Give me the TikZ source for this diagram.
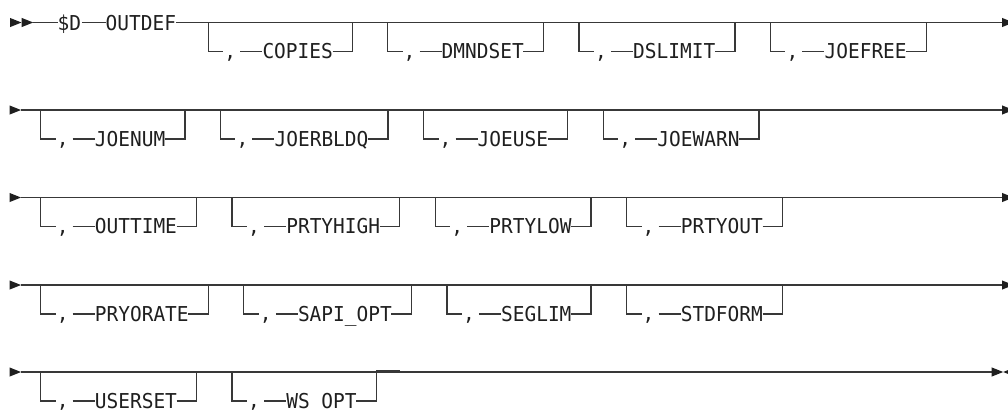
\documentclass[tikz,border=0pt]{standalone}
\usepackage{fontspec}
\newfontfamily\rrfont[FakeStretch=0.95]{DejaVu Sans Mono}
\tikzset{
  rail/.style={line width=1.3pt, draw=black!78, line join=miter},
  kwstyle/.style={inner sep=0pt, anchor=base west, font=\rrfont\fontsize{20.5}{24}\selectfont, text=black!88},
  commastyle/.style={inner sep=0pt, anchor=base, text depth=0pt, font=\rrfont\fontsize{20.5}{24}\selectfont, text=black!88},
  tipfill/.style={fill=black!88, draw=none},
}
% #1 name, #2 main-line y, #3 left x, #4 keyword, #5 number of characters
\newcommand\rrbranch[5]{%
  \pgfmathsetmacro\rrB{#2+29}%
  \pgfmathsetmacro\rrT{#3+54}%
  \pgfmathsetmacro\rrE{#3+54+#5*11.7}%
  \pgfmathsetmacro\rrR{\rrE+20}%
  \coordinate (#1-tl) at (#3,#2);
  \coordinate (#1-bl) at (#3,\rrB);
  \coordinate (#1-bc) at (#3+15,\rrB);
  \coordinate (#1-d1) at (#3+32,\rrB);
  \coordinate (#1-d2) at (\rrT,\rrB);
  \coordinate (#1-d3) at (\rrE,\rrB);
  \coordinate (#1-br) at (\rrR,\rrB);
  \coordinate (#1-tr) at (\rrR,#2);
  \node[commastyle] (#1-comma) at (#3+22,\rrB+6.6) {,};
  \node[kwstyle] (#1) at (\rrT,\rrB+7.2) {#4};
  \draw[rail] (#1-tl) -- (#1-bl) -- (#1-bc);
  \draw[rail] (#1-d1) -- (#1-d2);
  \draw[rail] (#1-d3) -- (#1-br) -- (#1-tr);
}
\newcommand\rrstart[2]{% #1 x, #2 y : right-pointing triangle
  \fill[tipfill] (#1,#2-4.6) -- (#1+11.5,#2) -- (#1,#2+4.6) -- cycle;
}
\begin{document}
\begin{tikzpicture}[x=1pt,y=-1pt]
\useasboundingbox (0,0) rectangle (1008,413);
\def\ya{22.5}\def\yb{110}\def\yc{197.5}\def\yd{285}\def\ye{372}

% ---------- row 1 ----------
\rrstart{10}{\ya}\rrstart{21.7}{\ya}
\coordinate (a0) at (33.2,\ya);
\node[kwstyle] (sd) at (57.5,\ya+7.5) {\$D};
\coordinate (sdw) at (57.5,\ya);
\coordinate (sde) at (81.9,\ya);
\node[kwstyle] (outdef) at (105.5,\ya+7.5) {OUTDEF};
\coordinate (odw) at (105.5,\ya);
\coordinate (ode) at (176,\ya);
\coordinate (a1) at (1002,\ya);
\draw[rail] (a0) -- (sdw);
\draw[rail] (sde) -- (odw);
\draw[rail] (ode) -- (a1);
\rrstart{1002}{\ya}
\rrbranch{copies}{\ya}{208.3}{COPIES}{6}
\rrbranch{dmndset}{\ya}{387.5}{DMNDSET}{7}
\rrbranch{dslimit}{\ya}{579}{DSLIMIT}{7}
\rrbranch{joefree}{\ya}{770.4}{JOEFREE}{7}

% ---------- row 2 ----------
\rrstart{9.5}{\yb}
\coordinate (b0) at (21,\yb);
\coordinate (b1) at (1002,\yb);
\draw[rail] (b0) -- (b1);
\rrstart{1002}{\yb}
\rrbranch{joenum}{\yb}{40.7}{JOENUM}{6}
\rrbranch{joerbldq}{\yb}{220.4}{JOERBLDQ}{8}
\rrbranch{joeuse}{\yb}{423.5}{JOEUSE}{6}
\rrbranch{joewarn}{\yb}{603.2}{JOEWARN}{7}

% ---------- row 3 ----------
\rrstart{9.5}{\yc}
\coordinate (c0) at (21,\yc);
\coordinate (c1) at (1002,\yc);
\draw[rail] (c0) -- (c1);
\rrstart{1002}{\yc}
\rrbranch{outtime}{\yc}{40.7}{OUTTIME}{7}
\rrbranch{prtyhigh}{\yc}{232.1}{PRTYHIGH}{8}
\rrbranch{prtylow}{\yc}{435.2}{PRTYLOW}{7}
\rrbranch{prtyout}{\yc}{626.6}{PRTYOUT}{7}

% ---------- row 4 ----------
\rrstart{9.5}{\yd}
\coordinate (d0) at (21,\yd);
\coordinate (d1) at (1002,\yd);
\draw[rail] (d0) -- (d1);
\rrstart{1002}{\yd}
\rrbranch{pryorate}{\yd}{40.7}{PRYORATE}{8}
\rrbranch{sapiopt}{\yd}{243.8}{SAPI\_OPT}{8}
\rrbranch{seglim}{\yd}{446.9}{SEGLIM}{6}
\rrbranch{stdform}{\yd}{626.6}{STDFORM}{7}

% ---------- row 5 ----------
\rrstart{9.5}{\ye}
\coordinate (e0) at (21,\ye);
\coordinate (e1) at (991.7,\ye);
\draw[rail] (e0) -- (e1);
\rrbranch{userset}{\ye}{40.7}{USERSET}{7}
\rrbranch{wsopt}{\ye}{232.1}{WS OPT}{6}
\coordinate (ws1) at (376.3,\ye-1.4);
\coordinate (ws2) at (400,\ye-1.4);
\draw[rail] (ws1) -- (ws2);
\rrstart{991.7}{\ye}
\fill[tipfill] (1003.2,\ye) -- (1014.7,\ye-4.6) -- (1014.7,\ye+4.6) -- cycle;
\end{tikzpicture}
\end{document}
